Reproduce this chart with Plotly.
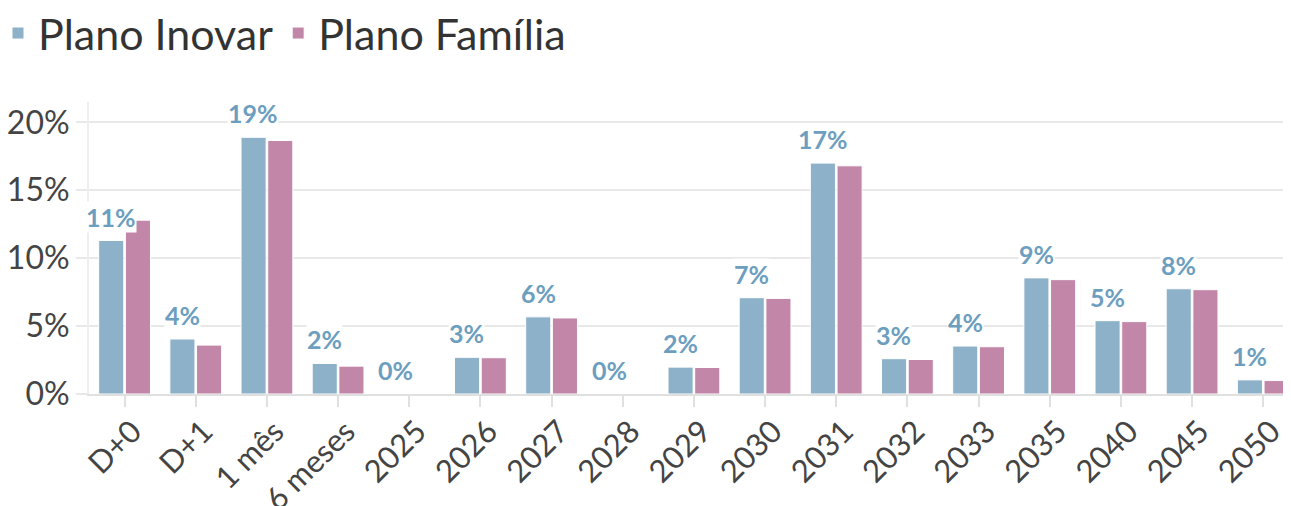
import plotly.graph_objects as go

categories = ["D+0", "D+1", "1 mês", "6 meses", "2025", "2026", "2027", "2028",
              "2029", "2030", "2031", "2032", "2033", "2035", "2040", "2045", "2050"]
plano_inovar = [11.3, 4.05, 18.9, 2.25, 0, 2.7, 5.68, 0, 1.98, 7.09, 17.0, 2.6, 3.53, 8.55, 5.4, 7.75, 1.04]
plano_familia = [12.8, 3.6, 18.67, 2.05, 0, 2.67, 5.6, 0, 1.95, 7.04, 16.8, 2.54, 3.48, 8.42, 5.33, 7.68, 0.99]
y_ticks = [0, 5, 10, 15, 20]
y_tick_labels = ["0%", "5%", "10%", "15%", "20%"]

FONT = "Lato"
BLUE = "#8cb1c8"
PINK = "#c287a8"
LABEL_BLUE = "#6c9ec0"

fig = go.Figure()
fig.add_trace(go.Bar(name="Plano Inovar", x=categories, y=plano_inovar,
                     marker=dict(color=BLUE, line=dict(color="white", width=1))))
fig.add_trace(go.Bar(name="Plano Família", x=categories, y=plano_familia,
                     marker=dict(color=PINK, line=dict(color="white", width=1))))

for i, v in enumerate(plano_inovar):
    fig.add_annotation(x=i, y=v, xref="x", yref="y", text=f"<b>{int(v + 0.5)}%</b>", showarrow=False,
                       xanchor="center", yanchor="bottom", xshift=-13.5, yshift=8,
                       font=dict(family=FONT, size=25, color=LABEL_BLUE),
                       bgcolor="white", borderpad=0)

fig.update_layout(
    width=1291, height=506,
    margin=dict(l=81, r=8, t=94, b=120, autoexpand=False),
    paper_bgcolor="white", plot_bgcolor="white",
    barmode="group", bargap=0.25, bargroupgap=0.06,
    font=dict(family=FONT, color="#444444"),
    showlegend=True,
    legend=dict(orientation="h", x=-0.0757, xanchor="left", y=1.236, yanchor="middle",
                font=dict(family=FONT, size=43, color="#333333"),
                itemwidth=30, traceorder="normal", itemclick=False),
    xaxis=dict(range=[-0.5, 16.39], tickangle=-45, automargin=False,
               tickfont=dict(family=FONT, size=31, color="#444444"),
               ticklabelshift=8, ticklabelstandoff=-6,
               ticks="outside", ticklen=11, tickcolor="#e0e0e0", tickwidth=2,
               showline=True, linecolor="#e0e0e0", linewidth=2,
               showgrid=False, fixedrange=True),
    yaxis=dict(range=[0, 21.5], tickvals=y_ticks, ticktext=y_tick_labels, automargin=False,
               tickfont=dict(family=FONT, size=32, color="#444444"),
               ticks="outside", ticklen=11, tickcolor="#e8e8e8", tickwidth=2,
               showline=True, linecolor="#eeeeee", linewidth=2,
               showgrid=True, gridcolor="#e8e8e8", gridwidth=2,
               zeroline=False, fixedrange=True),
)

fig.write_html("out.html", config={"displayModeBar": False})
